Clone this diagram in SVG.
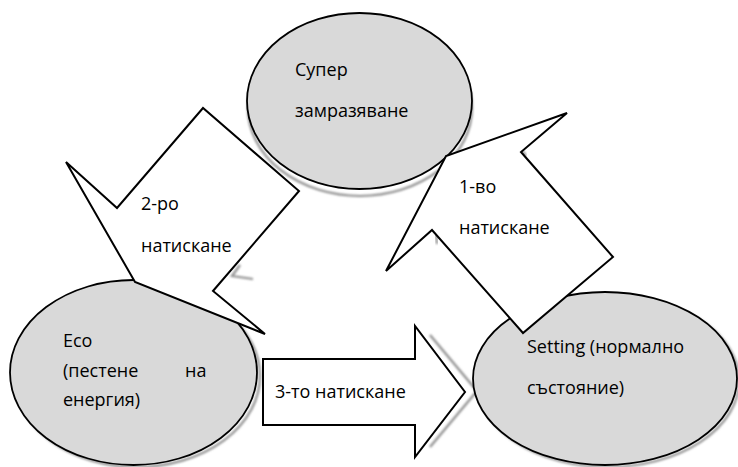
<svg xmlns="http://www.w3.org/2000/svg" width="738" height="467" viewBox="0 0 738 467">
<defs>
<filter id="blur" x="-20%" y="-20%" width="140%" height="140%"><feGaussianBlur stdDeviation="1.3"/></filter>
</defs>
<style>
.state{fill:#d9d9d9;stroke:#000;stroke-width:1.8}
.arrow{fill:#fff;stroke:#000;stroke-width:2;stroke-linejoin:miter}
.shadow{fill:none;stroke:#8c8c8c;stroke-width:2.2;filter:url(#blur)}
text{font-family:"Open Sans","Noto Sans","DejaVu Sans",sans-serif;font-size:18px;fill:#000}
</style>
<rect width="738" height="467" fill="#fff"/>
<g id="shadows">
<ellipse class="shadow" cx="360" cy="108" rx="112" ry="88"/>
<ellipse class="shadow" cx="137" cy="376" rx="123" ry="91"/>
<ellipse class="shadow" cx="608" cy="381" rx="131" ry="86"/>
<polyline class="shadow" points="430,335 477,391 430,447"/>
<polyline class="shadow" points="240,265 232,276 253,279"/>
<polyline class="shadow" points="436,233 437,244"/>
<polyline class="shadow" points="522,150 526,156"/>
</g>
<g id="super">
<ellipse class="state" cx="359.5" cy="101" rx="112.5" ry="88"/>
<text x="295" y="76">Супер</text>
<text x="295" y="117">замразяване</text>
</g>
<g id="eco">
<ellipse class="state" cx="133.5" cy="372.5" rx="123.5" ry="92.5"/>
<text x="63" y="347">Eco</text>
<text x="63" y="377">(пестене</text>
<text x="185" y="377">на</text>
<text x="63" y="406">енергия)</text>
</g>
<g id="setting">
<ellipse class="state" cx="605" cy="378.5" rx="132" ry="86.5"/>
<text x="527" y="353">Setting (нормално</text>
<text x="527" y="394">състояние)</text>
</g>
<g id="connectors">
<g id="press3">
<polygon class="arrow" points="263,359 415,359 415,326 465,392 415,457 415,425 263,425"/>
<text x="275" y="398">3-то натискане</text>
</g>
<g id="press2">
<polygon class="arrow" points="66,162 117,208 203,108 299,191 213,291 265,334 135,282"/>
<text x="141" y="210">2-ро</text>
<text x="141" y="252">натискане</text>
</g>
<g id="press1">
<polygon class="arrow" points="567,113 521,152 613,257 523,333 432,230 386,271 446,156"/>
<text x="459" y="193">1-во</text>
<text x="459" y="234">натискане</text>
</g>
</g>
</svg>
